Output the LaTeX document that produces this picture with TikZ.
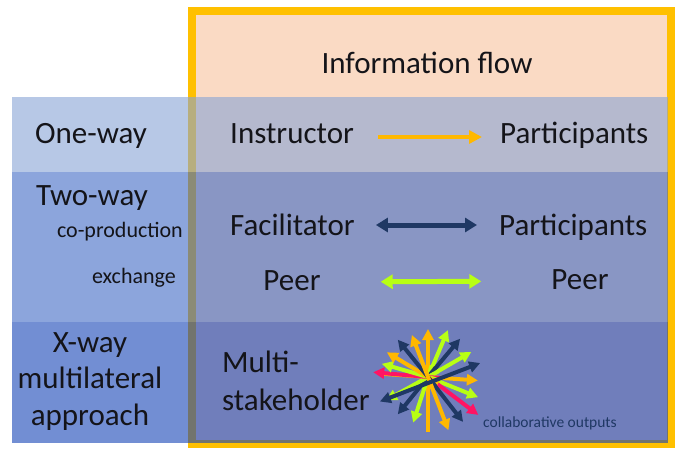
\documentclass[tikz,border=0pt]{standalone}
\usepackage{fontspec}
\setmainfont{Carlito}
\usepackage{tikz}
\usetikzlibrary{arrows.meta, positioning}
\definecolor{frameorange}{RGB}{255,192,0}
\definecolor{peachfill}{RGB}{250,218,196}
\definecolor{onewayblue}{RGB}{135,163,213}
\definecolor{twowayblue}{RGB}{63,105,197}
\definecolor{xwayblue}{RGB}{20,66,182}
\definecolor{inkblack}{RGB}{20,20,25}
\definecolor{flowyellow}{RGB}{255,184,0}
\definecolor{flownavy}{RGB}{31,56,100}
\definecolor{flowlime}{RGB}{184,255,20}
\definecolor{flowred}{RGB}{255,20,100}
\tikzset{
  frame/.style={draw=frameorange, line width=8pt, fill=peachfill},
  band/.style={fill opacity=0.6},
  bigtext/.style={font=\fontsize{31}{37}\selectfont, text=inkblack,
    inner sep=0pt, anchor=base},
  smalltext/.style={font=\fontsize{22}{26}\selectfont, text=inkblack,
    inner sep=0pt, anchor=base east},
  notetext/.style={font=\fontsize{15.5}{18}\selectfont, text=flownavy,
    inner sep=0pt, anchor=base west},
  oneway/.style={-{Triangle[length=13pt, width=13pt]}, line width=4pt,
    color=flowyellow},
  twoway/.style={{Triangle[length=12pt, width=14pt]}-{Triangle[length=12pt, width=14pt]},
    line width=5pt},
  burst/.style={-{Triangle[length=11pt, width=11pt]}, line width=4pt},
}
\begin{document}
\begin{tikzpicture}[x=1pt, y=-1pt]
  \useasboundingbox (0,0) rectangle (675,448);
  \draw[frame] (192,11) rectangle (671,444);
  \fill[band, onewayblue] (12,97) rectangle (668,172);
  \fill[band, twowayblue] (12,172) rectangle (668,322);
  \fill[band, xwayblue] (12,322) rectangle (668,443);

  \node[bigtext] (info) at (427,73) {Information flow};

  % one-way
  \node[bigtext] (oneway) at (91,143) {One-way};
  \node[bigtext, anchor=base west] (instr) at (230,143) {Instructor};
  \node[bigtext, anchor=base west] (part1) at (500,143) {Participants};
  \draw[oneway, shorten <=24pt, shorten >=18pt]
    ([yshift=6pt]instr.base east) -- ([yshift=6pt]part1.base west);

  % two-way
  \node[bigtext] (twoway) at (92,205) {Two-way};
  \node[smalltext] (coprod) at (183,237) {co-production};
  \node[smalltext] (exch) at (176,283) {exchange};
  \node[bigtext, anchor=base west] (facil) at (230,235) {Facilitator};
  \node[bigtext, anchor=base west] (part2) at (499,235) {Participants};
  \draw[twoway, flownavy, shorten <=21pt, shorten >=22pt]
    ([yshift=10pt]facil.base east) -- ([yshift=10pt]part2.base west);
  \node[bigtext] (peer1) at (292,290) {Peer};
  \node[bigtext] (peer2) at (580,289) {Peer};
  \draw[twoway, flowlime, shorten <=60pt, shorten >=70pt]
    ([yshift=8pt]peer1.base east) -- ([yshift=8pt]peer2.base west);

  % x-way
  \node[bigtext, align=center, font=\fontsize{31}{36.5}\selectfont]
    (xway) at (90,425) {X-way\\multilateral\\approach};
  \node[bigtext, anchor=base west, align=left, font=\fontsize{31}{38}\selectfont]
    (multi) at (222,410) {Multi-\\stakeholder};
  \coordinate (hub) at (428,377);
  \foreach \ang/\len/\tail/\col in {90/48/55/flowyellow, 67/51/12/flowlime,
      50/50/12/flownavy, 30/50/12/flowlime, -4/50/48/flowyellow,
      -22/54/12/flowlime, -37/63/12/flowred, -52/57/12/flownavy,
      -69/57/12/flowyellow, -108/48/12/flowlime, -129/48/12/flownavy,
      -151/48/12/flowlime, 175/55/12/flowred, 164/48/12/flowlime,
      149/48/12/flowyellow, 129/48/12/flownavy, 111/45/12/flowyellow}
    \draw[burst, \col] ([shift={(\ang+180:\tail pt)}]hub) -- ([shift={(\ang:\len pt)}]hub);
  \draw[burst, flownavy, {Triangle[length=11pt, width=11pt]}-{Triangle[length=11pt, width=11pt]}]
    ([shift={(207:54pt)}]hub) -- ([shift={(15:54pt)}]hub);
  \node[notetext] (outputs) at (483,427) {collaborative outputs};
\end{tikzpicture}
\end{document}
